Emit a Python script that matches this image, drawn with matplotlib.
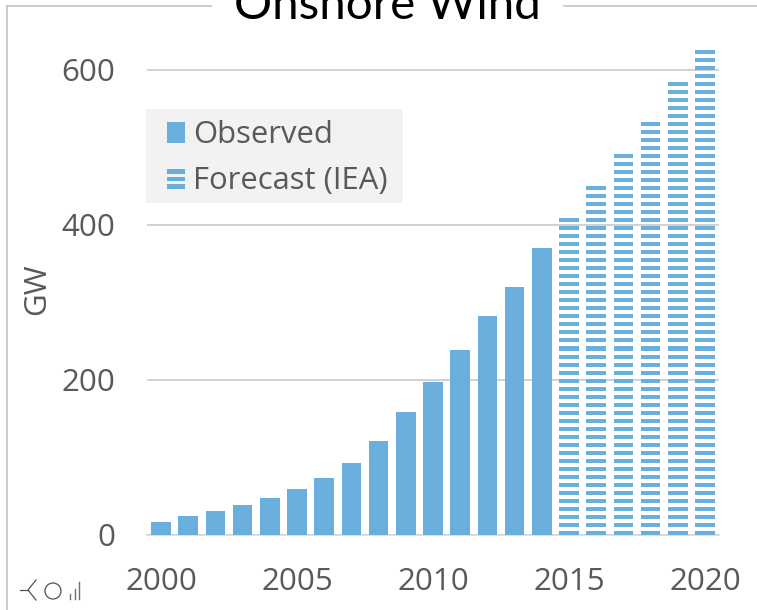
import numpy as np
import matplotlib
matplotlib.use("Agg")
import matplotlib.pyplot as plt
from matplotlib.lines import Line2D
from matplotlib.patches import Circle, Patch, Rectangle
from matplotlib.legend_handler import HandlerBase

observed_years = list(range(2000, 2015))
observed_gw = [17, 24, 31, 39, 48, 59, 74, 93, 121, 159, 197, 239, 283, 320, 370]
forecast_years = list(range(2015, 2021))
forecast_gw = [408, 449, 490, 532, 583, 625]
y_ticks = [0, 200, 400, 600]
x_ticks = [2000, 2005, 2010, 2015, 2020]

BLUE = "#69AEDD"
GREY_TEXT = "#595959"
W, H = 757, 610
STRIPE_STEP = 10.35
STRIPE_HEIGHT = 5.2
BAR_WIDTH = 0.72

plt.rcParams["font.family"] = ["Open Sans", "DejaVu Sans"]


class StripedHandler(HandlerBase):
    # legend key made of three thin horizontal bars
    def create_artists(self, legend, orig_handle, xdescent, ydescent,
                       width, height, fontsize, trans):
        bars = []
        for frac in (0.0, 0.37, 0.74):
            bars.append(Rectangle((-xdescent, -ydescent + frac * height), width,
                                  0.22 * height, facecolor=BLUE, edgecolor="none",
                                  transform=trans))
        return bars


def px_line(fig, xs, ys, color, lw):
    # line given in pixels from the top left corner of the figure
    fig.add_artist(Line2D([x / W for x in xs], [1 - y / H for y in ys],
                          color=color, lw=lw, transform=fig.transFigure))


fig = plt.figure(figsize=(W / 100, H / 100), dpi=100)
ax = fig.add_axes([147 / W, 1 - 535 / H, (719 - 147) / W, (535 - 50) / H])

ax.bar(observed_years, observed_gw, width=BAR_WIDTH, color=BLUE, zorder=3)
for year, value in zip(forecast_years, forecast_gw):
    bottoms = np.arange(0, value, STRIPE_STEP)
    ax.bar([year] * len(bottoms), STRIPE_HEIGHT, bottom=bottoms, width=BAR_WIDTH,
           color=BLUE, zorder=3, clip_on=False)

ax.set_xlim(1999.485, 2020.515)
ax.set_ylim(0, 485 / 0.775)
ax.set_yticks(y_ticks)
ax.set_xticks(x_ticks)
ax.tick_params(length=0, labelsize=22.5, labelcolor=GREY_TEXT)
ax.tick_params(axis="x", pad=23)
ax.tick_params(axis="y", pad=23)
ax.grid(axis="y", color="#C9C9C9", lw=1.2, zorder=1)
for side in ["top", "right", "left"]:
    ax.spines[side].set_visible(False)
ax.spines["bottom"].set_color("#D9D9D9")
ax.spines["bottom"].set_linewidth(1.2)
ax.set_axisbelow(True)

fig.text(37 / W, 1 - 289 / H, "GW", rotation=90, fontsize=22.5, color=GREY_TEXT,
         ha="center", va="center")
fig.text(387 / W, 1 - 19 / H, "Onshore Wind", fontsize=34.2, color="black",
         family="Lato", ha="center", va="baseline")

# legend sits on a flat grey panel
fig.add_artist(Rectangle((146 / W, 1 - 203 / H), 257 / W, 94 / H, facecolor="#F2F2F2",
                         edgecolor="none", transform=fig.transFigure, zorder=2))
handles = [Patch(facecolor=BLUE, edgecolor="none"), Patch(label="striped")]
leg = fig.legend(handles, ["Observed", "Forecast (IEA)"], loc="upper left",
                 bbox_to_anchor=(158 / W, 1 - 111 / H), frameon=False, fontsize=22.3,
                 labelcolor=GREY_TEXT, handlelength=0.58, handleheight=0.66,
                 handletextpad=0.26, labelspacing=0.52, borderpad=0.3, borderaxespad=0,
                 handler_map={handles[1]: StripedHandler()})
leg.set_zorder(4)

# chart frame, broken around the title
px_line(fig, [7, 7], [610, 6], "#C8C8C8", 1.3)
px_line(fig, [7, 211], [6, 6], "#C8C8C8", 1.3)
px_line(fig, [564, 757], [6, 6], "#C8C8C8", 1.3)

# small glyphs in the lower left corner
px_line(fig, [20, 28], [590, 590], "#505050", 0.9)
px_line(fig, [36, 28, 36], [580, 590, 600], "#505050", 0.9)
fig.add_artist(Circle((53, H - 591), 8, fill=False, edgecolor="#505050",
                      lw=0.9, transform=None))
px_line(fig, [70, 70], [594, 599], "#707070", 1.0)
px_line(fig, [75, 75], [589, 599], "#707070", 1.0)
px_line(fig, [79, 79], [582, 599], "#707070", 1.0)

fig.savefig("out.png", dpi=100)
